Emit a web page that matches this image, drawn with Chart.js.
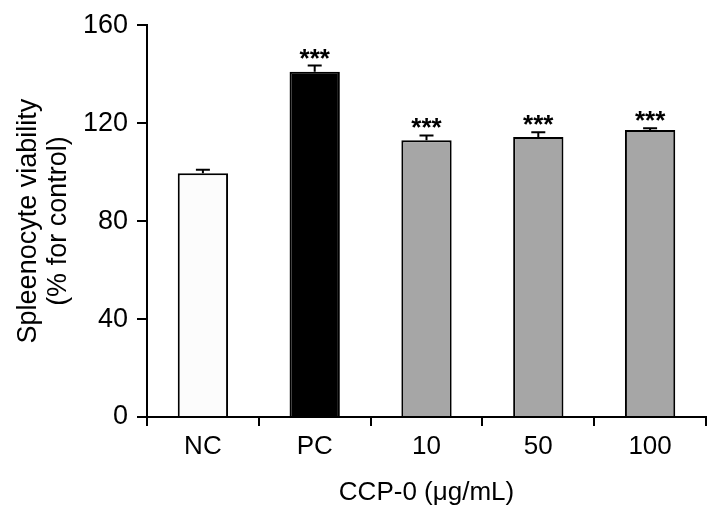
<!DOCTYPE html>
<html>
<head>
<meta charset="utf-8">
<script src="https://cdn.jsdelivr.net/npm/chart.js@4"></script>
<style>
  html, body { margin: 0; padding: 0; background: #fff; }
  #wrap { width: 719px; height: 522px; }
</style>
</head>
<body>
<div id="wrap"><canvas id="myChart" width="719" height="522"></canvas></div>
<script>
const groups = ['NC', 'PC', '10', '50', '100'];
const viability = [99.5, 141, 113, 114.3, 117.2];
const errors = [1.5, 2.5, 2, 2, 0.7];
const stars = ['', '***', '***', '***', '***'];
const barColors = ['#fcfcfc', '#000000', '#a6a6a6', '#a6a6a6', '#a6a6a6'];
const yTicks = [0, 40, 80, 120, 160];

const ctx = document.getElementById('myChart');
const FONT = '"Liberation Sans", Arial, sans-serif';

// error bars + significance marks drawn on top of the bars
const errorBars = {
    id: 'errorBars',
    afterDatasetsDraw(chart) {
        const c = chart.ctx;
        const y = chart.scales.y;
        const meta = chart.getDatasetMeta(0);
        c.save();
        c.strokeStyle = '#000';
        c.lineWidth = 2;
        c.fillStyle = '#000';
        c.font = 'bold 26px ' + FONT;
        c.textAlign = 'center';
        c.textBaseline = 'alphabetic';
        meta.data.forEach((bar, i) => {
            const top = y.getPixelForValue(viability[i]);
            const cap = y.getPixelForValue(viability[i] + errors[i]);
            c.beginPath();
            c.moveTo(bar.x, top);
            c.lineTo(bar.x, cap);
            c.moveTo(bar.x - 7, cap);
            c.lineTo(bar.x + 7, cap);
            c.stroke();
            if (stars[i]) c.fillText(stars[i], bar.x, cap + 1);
        });
        c.restore();
    }
};

new Chart(ctx, {
    type: 'bar',
    data: {
        labels: groups,
        datasets: [{
            data: viability,
            backgroundColor: barColors,
            borderColor: '#000',
            borderWidth: 2,
            borderSkipped: 'bottom',
            categoryPercentage: 1,
            barPercentage: 0.45
        }]
    },
    options: {
        responsive: false,
        animation: false,
        layout: { padding: { top: 24, right: 13, left: 0, bottom: 0 } },
        plugins: { legend: { display: false }, tooltip: { enabled: false } },
        scales: {
            x: {
                offset: true,
                grid: {
                    offset: true,
                    drawOnChartArea: false,
                    drawTicks: true,
                    tickLength: 9,
                    color: '#000',
                    lineWidth: 2
                },
                border: { color: '#000', width: 2 },
                ticks: {
                    color: '#000',
                    padding: 5,
                    font: { family: FONT, size: 26 }
                },
                title: {
                    display: true,
                    text: 'CCP-0 (\u03bcg/mL)',
                    color: '#000',
                    padding: { top: 2, bottom: 14 },
                    font: { family: FONT, size: 26 }
                },
                afterFit(scale) { scale.height = 105; }
            },
            y: {
                min: 0,
                max: 160,
                afterBuildTicks(scale) { scale.ticks = yTicks.map(v => ({ value: v })); },
                grid: {
                    drawOnChartArea: false,
                    drawTicks: true,
                    tickLength: 10,
                    color: '#000',
                    lineWidth: 2
                },
                border: { color: '#000', width: 2 },
                ticks: {
                    color: '#000',
                    padding: 9,
                    font: { family: FONT, size: 27 }
                },
                title: {
                    display: true,
                    text: ['Spleenocyte viability', '(% for control)'],
                    color: '#000',
                    padding: { top: 14, bottom: 0 },
                    font: { family: FONT, size: 27, lineHeight: 1.1 }
                },
                afterFit(scale) { scale.width = 147; }
            }
        }
    },
    plugins: [errorBars]
});
</script>
</body>
</html>
